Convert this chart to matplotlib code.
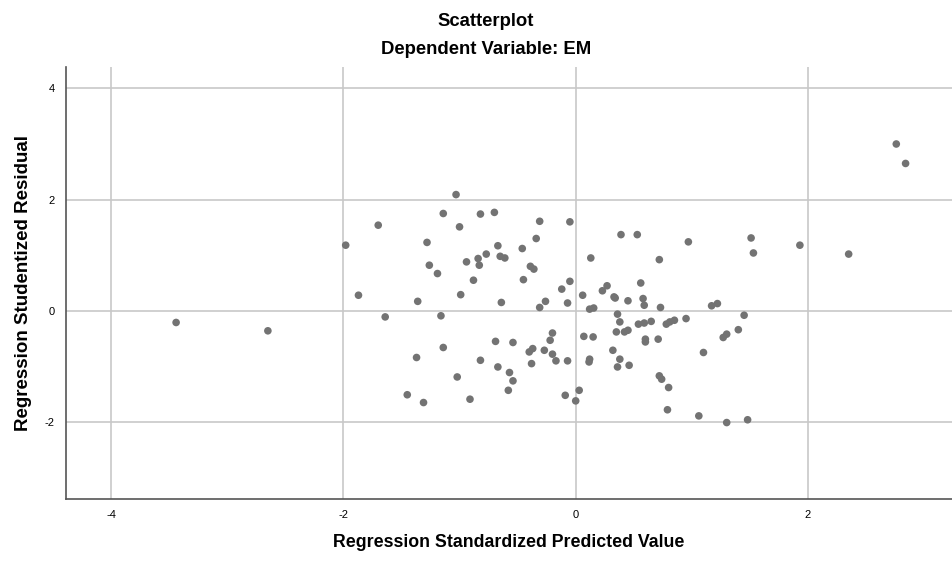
import matplotlib
matplotlib.use("Agg")
import matplotlib.pyplot as plt

# values (standardized predicted vs studentized residual)
pred = [-3.44, -2.65, -1.98, -1.87, -1.03, -1.70, -1.14, -0.82, -0.70, -1.00,
        -1.28, -0.67, -0.77, -0.84, -0.83, -0.65, -0.61, -0.94, -1.26, -1.19,
        -0.88, -1.36, -0.99, -1.64, -1.16, -0.69, -1.14, -1.37, -0.82, -0.67,
        -1.02, -1.45, -1.31, -0.91, -0.31, -0.05, -0.34, -0.46, -0.39, -0.36,
        -0.45, -0.05, -0.12, 0.39, 0.53, 0.13, 0.72, 0.56, 0.27, 0.23,
        0.06, 0.33, 0.34, 0.45, 0.58, 0.59, -0.64, -0.26, -0.31, -0.07,
        0.155, 0.12, 0.36, 0.38, 0.54, 0.59, 0.65, 0.35, 0.42, 0.45,
        0.60, 0.60, 0.71, 0.07, 0.15, 0.32, 0.38, 0.36, 0.46, 0.12,
        0.115, 0.72, -0.20, -0.22, -0.54, -0.40, -0.37, -0.27, -0.20, -0.17,
        -0.07, -0.38, -0.57, -0.54, -0.58, -0.09, 0.03, 0.00, 2.76, 2.84,
        0.97, 1.51, 1.53, 1.93, 2.35, 0.73, 0.78, 0.81, 0.85, 0.95,
        1.17, 1.22, 1.45, 1.40, 1.27, 1.30, 1.10, 0.74, 0.80, 0.79,
        1.06, 1.30, 1.48]
resid = [-0.21, -0.36, 1.18, 0.28, 2.09, 1.54, 1.75, 1.74, 1.77, 1.51,
         1.23, 1.17, 1.02, 0.94, 0.82, 0.98, 0.95, 0.88, 0.82, 0.67,
         0.55, 0.17, 0.29, -0.11, -0.09, -0.55, -0.66, -0.84, -0.89, -1.01,
         -1.19, -1.51, -1.65, -1.59, 1.61, 1.60, 1.30, 1.12, 0.80, 0.75,
         0.56, 0.53, 0.39, 1.37, 1.37, 0.95, 0.92, 0.50, 0.45, 0.36,
         0.28, 0.25, 0.23, 0.18, 0.22, 0.10, 0.15, 0.17, 0.06, 0.14,
         0.05, 0.03, -0.06, -0.20, -0.24, -0.22, -0.19, -0.38, -0.38, -0.35,
         -0.51, -0.56, -0.51, -0.46, -0.47, -0.71, -0.87, -1.01, -0.98, -0.87,
         -0.92, -1.17, -0.40, -0.53, -0.57, -0.74, -0.68, -0.71, -0.78, -0.90,
         -0.90, -0.95, -1.11, -1.26, -1.43, -1.52, -1.43, -1.62, 3.00, 2.65,
         1.24, 1.31, 1.04, 1.18, 1.02, 0.06, -0.24, -0.20, -0.17, -0.14,
         0.09, 0.13, -0.08, -0.34, -0.48, -0.42, -0.75, -1.23, -1.38, -1.78,
         -1.89, -2.01, -1.96]

x_ticks = [-4, -2, 0, 2]
y_ticks = [-2, 0, 2, 4]

plt.rcParams['font.family'] = ['Liberation Sans', 'DejaVu Sans']
plt.rcParams['axes.unicode_minus'] = False

fig = plt.figure(figsize=(9.53, 5.62), dpi=100)
ax = fig.add_axes([0.069, 0.1116, 0.93, 0.7697])

ax.scatter(pred, resid, s=30, color='#737373', edgecolors='none', zorder=3)

ax.set_xlim(-4.39, 3.24)
ax.set_ylim(-3.39, 4.39)
ax.set_xticks(x_ticks)
ax.set_yticks(y_ticks)
ax.tick_params(length=0, labelsize=8)
ax.tick_params(axis='x', pad=8)
ax.tick_params(axis='y', pad=8)
ax.grid(True, color='#c8c8c8', lw=1.2)
ax.set_axisbelow(True)

for side in ['top', 'right']:
    ax.spines[side].set_visible(False)
for side in ['left', 'bottom']:
    ax.spines[side].set_color('#555555')
    ax.spines[side].set_linewidth(1.2)

ax.set_xlabel('Regression Standardized Predicted Value', fontsize=12.8,
              fontweight='bold', labelpad=10)
ax.set_ylabel('Regression Studentized Residual', fontsize=13.5,
              fontweight='bold', labelpad=9)

fig.text(0.51, 0.961, 'Scatterplot', ha='center', va='center',
         fontsize=13.3, fontweight='bold')
fig.text(0.51, 0.912, 'Dependent Variable: EM', ha='center', va='center',
         fontsize=13.3, fontweight='bold')

fig.savefig('out.png', dpi=100)
